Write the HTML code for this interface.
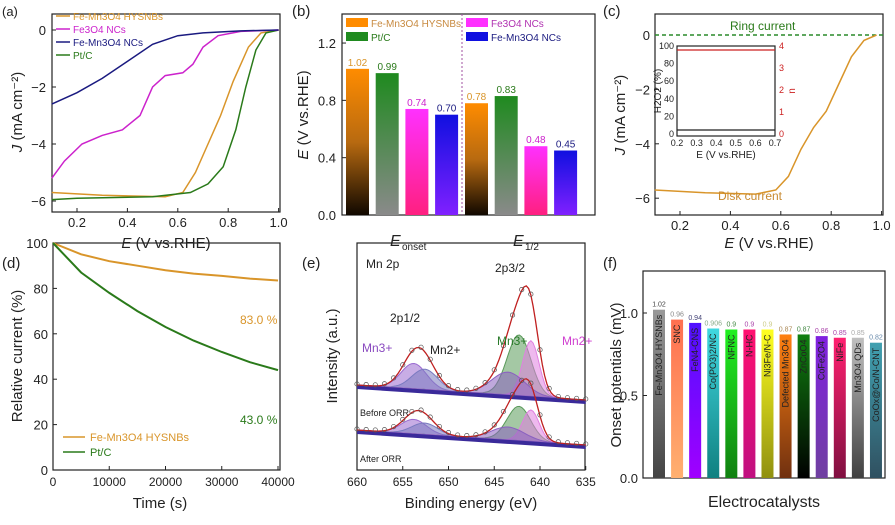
<!DOCTYPE html>
<html><head><meta charset="utf-8"><style>
body{margin:0;background:#fff;width:895px;height:520px;overflow:hidden}
svg{font-family:"Liberation Sans",sans-serif}
</style></head><body>
<svg id="s" width="895" height="520" viewBox="0 0 895 520" xmlns="http://www.w3.org/2000/svg">
<defs>
<linearGradient id="gO" x1="0" y1="0" x2="0" y2="1"><stop offset="0" stop-color="#ff8c00"/><stop offset="0.5" stop-color="#b86a10"/><stop offset="1" stop-color="#100800"/></linearGradient>
<linearGradient id="gG" x1="0" y1="0" x2="0" y2="1"><stop offset="0" stop-color="#1f8a1f"/><stop offset="1" stop-color="#8a8a8a"/></linearGradient>
<linearGradient id="gP" x1="0" y1="0" x2="0" y2="1"><stop offset="0" stop-color="#ff30ff"/><stop offset="1" stop-color="#ff2080"/></linearGradient>
<linearGradient id="gB" x1="0" y1="0" x2="0" y2="1"><stop offset="0" stop-color="#1010e0"/><stop offset="1" stop-color="#8020ff"/></linearGradient>
</defs>
</svg>
<script>
// ---------- data ----------
const aOrange=[[0.1,-5.7],[0.3,-5.8],[0.55,-5.85],[0.62,-5.7],[0.67,-5.0],[0.72,-4.0],[0.77,-3.0],[0.82,-1.8],[0.88,-0.6],[0.93,-0.1],[1.0,0]];
const aGreen=[[0.1,-5.95],[0.2,-5.9],[0.5,-5.85],[0.65,-5.7],[0.72,-5.4],[0.78,-4.8],[0.83,-3.5],[0.87,-2.0],[0.91,-0.7],[0.95,-0.1],[1.0,0]];
const aPink=[[0.1,-5.2],[0.15,-4.6],[0.22,-4.0],[0.3,-3.7],[0.38,-3.5],[0.45,-3.0],[0.5,-2.0],[0.55,-1.6],[0.62,-1.5],[0.66,-1.2],[0.7,-0.6],[0.76,-0.2],[0.85,-0.05],[1.0,0]];
const aNavy=[[0.1,-2.6],[0.2,-2.2],[0.3,-1.7],[0.4,-1.1],[0.5,-0.5],[0.6,-0.2],[0.7,-0.1],[0.85,-0.03],[1.0,0]];
const bOnset=[1.02,0.99,0.74,0.70];
const bHalf=[0.78,0.83,0.48,0.45];
const cDisk=[[0.1,-5.7],[0.3,-5.8],[0.5,-5.85],[0.58,-5.7],[0.63,-5.2],[0.68,-4.2],[0.73,-3.4],[0.78,-2.8],[0.83,-1.8],[0.88,-0.8],[0.93,-0.2],[0.98,0]];
const dTime=[0,5000,10000,15000,20000,25000,30000,35000,40000];
const dOrange=[100,95,92,90,88,86.5,85.5,84.3,83.5];
const dGreen=[100,87,78,70,63,57,52,47.5,44];
const fNames=["Fe-Mn3O4 HYSNBs","SNC","FeN4-CNS","Co(PO3)2/NC","NFNC","N-HC","Ni3Fe/N-C","Defected Mn3O4","ZnCoO4","CoFe2O4","NiFe","Mn3O4 QDs","CoOx@Co/N-CNT"];
const fVals=[1.02,0.96,0.94,0.906,0.90,0.90,0.90,0.87,0.87,0.86,0.85,0.85,0.82];
const fTop=["#999","#ff7050","#5010ff","#40d8e0","#20f020","#ff1070","#ffff20","#ff8010","#108010","#8020e0","#ff2070","#c0c0c0","#40a0b0"];
const fBot=["#444","#ffb070","#a000ff","#108080","#108010","#c01080","#909010","#703010","#000","#7040a0","#801040","#404040","#305060"];
const fLab=["#444","#888","#447","#8a8","#484","#a4a","#cc8","#a85","#484","#a4a","#a4a","#aaa","#68a"];
// ---------- helpers ----------
const S=document.getElementById('s');const NS="http://www.w3.org/2000/svg";
function el(t,a,txt){const e=document.createElementNS(NS,t);for(const k in a)e.setAttribute(k,a[k]);if(txt!==undefined)e.textContent=txt;S.appendChild(e);return e;}
function line(pts,sx,sy){return pts.map((p,i)=>(i?'L':'M')+sx(p[0]).toFixed(1)+','+sy(p[1]).toFixed(1)).join('');}
function box(x0,y0,x1,y1,n){const r=el('rect',{x:x0,y:y0,width:x1-x0,height:y1-y0,fill:'none',stroke:'#222','stroke-width':1.2});

}
function txt(x,y,t,n,o){const e=el('text',Object.assign({x:x,y:y,'font-size':13,fill:'#222'},o||{}),t);

return e;}
function itxt(x,y,it,rest,n,o){const e=txt(x,y,'',n,o);e.innerHTML='<tspan font-style="italic">'+it+'</tspan>'+rest;return e;}
// ========== (a) ==========
{const sx=v=>77+(v-0.2)*252, sy=v=>30-v*28.5;
box(52,14,280,212,'panel-a-frame');txt(2,16,'(a)','panel-a-label');
[0,-2,-4,-6].forEach(v=>{el('line',{x1:52,x2:56,y1:sy(v),y2:sy(v),stroke:'#222'});txt(46,sy(v)+5,v===0?'0':'−'+(-v),'a-y-tick',{'text-anchor':'end'});});
[0.2,0.4,0.6,0.8,1.0].forEach(v=>{el('line',{x1:sx(v),x2:sx(v),y1:212,y2:208,stroke:'#222'});txt(sx(v),227,v.toFixed(1),'a-x-tick',{'text-anchor':'middle'});});
itxt(166,248,'E',' (V vs.RHE)','a-x-title',{'text-anchor':'middle','font-size':15});
itxt(22,112,'J',' (mA cm⁻²)','a-y-title',{'text-anchor':'middle','font-size':15,transform:'rotate(-90 22 112)'});
[[aOrange,'#d9952a','a-line-fe-mn3o4-hysnbs'],[aGreen,'#2a7a1a','a-line-pt-c'],[aPink,'#cc22cc','a-line-fe3o4'],[aNavy,'#1a1a80','a-line-fe-mn3o4-ncs']].forEach(s=>{const p=el('path',{d:line(s[0],sx,sy),fill:'none',stroke:s[1],'stroke-width':1.5});

});
[['Fe-Mn3O4 HYSNBs','#d9952a',20],['Fe3O4 NCs','#cc22cc',33],['Fe-Mn3O4 NCs','#1a1a80',46],['Pt/C','#2a7a1a',59]].forEach(l=>{el('line',{x1:56,x2:70,y1:l[2]-4,y2:l[2]-4,stroke:l[1],'stroke-width':1.5});txt(73,l[2],l[0],'a-legend-entry',{'font-size':10,fill:l[1]});});}
// ========== (b) ==========
{const sy=v=>215-v*143.3;
box(342,14,595,215,'panel-b-frame');txt(292,16,'(b)','panel-b-label',{'font-size':15});
[0,0.4,0.8,1.2].forEach(v=>{el('line',{x1:342,x2:346,y1:sy(v),y2:sy(v),stroke:'#222'});txt(336,sy(v)+5,v.toFixed(1),'b-y-tick',{'text-anchor':'end'});});
itxt(308,115,'E',' (V vs.RHE)','b-y-title',{'text-anchor':'middle','font-size':15,transform:'rotate(-90 308 115)'});
el('line',{x1:462,x2:462,y1:14,y2:215,stroke:'#a050a0','stroke-dasharray':'2,2'});
const g=['url(#gO)','url(#gG)','url(#gP)','url(#gB)'],lc=['#d9952a','#2a7a1a','#cc22cc','#1a1a80'];
[[bOnset,346],[bHalf,465]].forEach(grp=>{grp[0].forEach((v,i)=>{const x=grp[1]+i*29.7;const r=el('rect',{x:x,y:sy(v),width:23,height:215-sy(v),fill:g[i]});


txt(x+11.5,sy(v)-3,v.toFixed(2),'b-bar-value',{'text-anchor':'middle','font-size':10,fill:lc[i]});});});
txt(390,246,'E','b-x-label-onset',{'font-size':16,'font-style':'italic'});txt(402,250,'onset','b-x-sub',{'font-size':10});
txt(513,246,'E','b-x-label-half',{'font-size':16,'font-style':'italic'});txt(525,250,'1/2','b-x-sub',{'font-size':10});
[['Fe-Mn3O4 HYSNBs','#ff8c00',346,27,'#c88a40'],['Pt/C','#1f8a1f',346,41,'#2a7a1a'],['Fe3O4 NCs','#ff30ff',466,27,'#b030b0'],['Fe-Mn3O4 NCs','#1010e0',466,41,'#1a1a80']].forEach(l=>{el('rect',{x:l[2],y:l[3]-9,width:22,height:9,fill:l[1]});txt(l[2]+25,l[3],l[0],'b-legend-entry',{'font-size':10,fill:l[4]});});}
// ========== (c) ==========
{const sx=v=>680+(v-0.2)*252, sy=v=>35-v*27.2;
box(655,14,883,215,'panel-c-frame');txt(603,16,'(c)','panel-c-label',{'font-size':15});
[0,-2,-4,-6].forEach(v=>{el('line',{x1:655,x2:659,y1:sy(v),y2:sy(v),stroke:'#222'});txt(650,sy(v)+5,v===0?'0':'−'+(-v),'c-y-tick',{'text-anchor':'end'});});
[0.2,0.4,0.6,0.8,1.0].forEach(v=>{el('line',{x1:sx(v),x2:sx(v),y1:215,y2:211,stroke:'#222'});txt(sx(v),230,v.toFixed(1),'c-x-tick',{'text-anchor':'middle'});});
itxt(769,248,'E',' (V vs.RHE)','c-x-title',{'text-anchor':'middle','font-size':15});
itxt(625,115,'J',' (mA cm⁻²)','c-y-title',{'text-anchor':'middle','font-size':15,transform:'rotate(-90 625 115)'});
el('line',{x1:655,x2:883,y1:sy(0),y2:sy(0),stroke:'#2a8a2a','stroke-dasharray':'4,3','stroke-width':1.5});
const p=el('path',{d:line(cDisk,sx,sy),fill:'none',stroke:'#d9952a','stroke-width':1.5});


txt(730,30,'Ring current','c-ring-label',{'font-size':12,fill:'#2a7a1a'});
txt(718,200,'Disk current','c-disk-label',{'font-size':12,fill:'#c88a30'});
box(677,46,775,136,'c-inset-frame');
el('line',{x1:677,x2:775,y1:50,y2:50,stroke:'#cc2020','stroke-width':1.3});
el('line',{x1:677,x2:775,y1:130,y2:130,stroke:'#222','stroke-width':1.3});
[100,80,60,40,20,0].forEach((v,i)=>txt(674,49+i*17.6,v,'c-inset-y-tick',{'text-anchor':'end','font-size':9}));
[4,3,2,1,0].forEach((v,i)=>txt(779,49+i*22,v,'c-inset-y2-tick',{'font-size':9,fill:'#cc2020'}));
[0.2,0.3,0.4,0.5,0.6,0.7].forEach((v,i)=>txt(677+i*19.6,146,v,'c-inset-x-tick',{'text-anchor':'middle','font-size':9}));
txt(726,158,'E (V vs.RHE)','c-inset-x-title',{'text-anchor':'middle','font-size':10});
txt(661,91,'H2O2 (%)','c-inset-y-title',{'text-anchor':'middle','font-size':10,transform:'rotate(-90 661 91)'});
txt(795,91,'n','c-inset-y2-title',{'text-anchor':'middle','font-size':10,fill:'#cc2020',transform:'rotate(-90 795 91)'});}
// ========== (d) ==========
{const sx=v=>53+v*0.005625, sy=v=>470-v*2.27;
box(53,243,280,470,'panel-d-frame');txt(2,268,'(d)','panel-d-label',{'font-size':15});
[0,20,40,60,80,100].forEach(v=>{el('line',{x1:53,x2:57,y1:sy(v),y2:sy(v),stroke:'#222'});txt(48,sy(v)+5,v,'d-y-tick',{'text-anchor':'end'});});
[0,10000,20000,30000,40000].forEach(v=>{el('line',{x1:sx(v),x2:sx(v),y1:470,y2:466,stroke:'#222'});txt(sx(v),486,v,'d-x-tick',{'text-anchor':'middle','font-size':12});});
txt(160,508,'Time (s)','d-x-title',{'text-anchor':'middle','font-size':15});
txt(22,356,'Relative current (%)','d-y-title',{'text-anchor':'middle','font-size':15,transform:'rotate(-90 22 356)'});
[[dOrange,'#d9952a','d-line-fe-mn3o4'],[dGreen,'#2a7a1a','d-line-pt-c']].forEach(s=>{const p=el('path',{d:line(dTime.map((t,i)=>[t,s[0][i]]),sx,sy),fill:'none',stroke:s[1],'stroke-width':2});

});
txt(240,324,'83.0 %','d-value-orange',{fill:'#d9952a','font-size':12});
txt(240,424,'43.0 %','d-value-green',{fill:'#2a7a1a','font-size':12});
el('line',{x1:63,x2:85,y1:437,y2:437,stroke:'#d9952a','stroke-width':1.5});txt(90,441,'Fe-Mn3O4 HYSNBs','d-legend-entry',{'font-size':11,fill:'#d9952a'});
el('line',{x1:63,x2:85,y1:452,y2:452,stroke:'#2a7a1a','stroke-width':1.5});txt(90,456,'Pt/C','d-legend-entry',{'font-size':11,fill:'#2a7a1a'});}
// ========== (e) ==========
{const sx=v=>357+(660-v)*9.15;
box(357,243,585,470,'panel-e-frame');txt(302,268,'(e)','panel-e-label',{'font-size':15});
[660,655,650,645,640,635].forEach(v=>{el('line',{x1:sx(v),x2:sx(v),y1:470,y2:466,stroke:'#222'});txt(sx(v),486,v,'e-x-tick',{'text-anchor':'middle','font-size':12});});
txt(471,508,'Binding energy (eV)','e-x-title',{'text-anchor':'middle','font-size':15});
txt(337,356,'Intensity (a.u.)','e-y-title',{'text-anchor':'middle','font-size':15,transform:'rotate(-90 337 356)'});
txt(366,268,'Mn 2p','e-title',{'font-size':12});
const peaks=[[653.8,1,1.4,'#9a6ad0'],[652.6,0.8,1.4,'#7a7ac0'],[642.3,2.4,1.3,'#5a9a5a'],[641.0,2.2,0.9,'#e080e0'],[643.5,0.9,1.8,'#8a60c0']];
[[400,1.15,'before'],[445,0.65,'after']].forEach(sp=>{const base=sp[0],k=sp[1];const bgy=v=>base-(v-635)*0.6;
let env=[];for(let e=660;e>=635;e-=0.25){let y=0;peaks.forEach(p=>y+=p[1]*Math.exp(-((e-p[0])**2)/(2*p[2]*p[2])));env.push([e,y]);}
peaks.forEach(p=>{let d='';for(let e=660;e>=635;e-=0.25){const y=bgy(e)-22*k*p[1]*Math.exp(-((e-p[0])**2)/(2*p[2]*p[2]));d+=(d?'L':'M')+sx(e).toFixed(1)+','+y.toFixed(1);}
d+='L'+sx(635)+','+bgy(635)+'L'+sx(660)+','+bgy(660)+'Z';const pp=el('path',{d:d,fill:p[3],'fill-opacity':0.55,stroke:p[3]});

});
el('path',{d:'M'+sx(660)+','+bgy(660)+'L'+sx(635)+','+bgy(635)+'L'+sx(635)+','+(bgy(635)+4)+'L'+sx(660)+','+(bgy(660)+4)+'Z',fill:'#3a2a9a'});
const fit=el('path',{d:env.map((p,i)=>(i?'L':'M')+sx(p[0]).toFixed(1)+','+(bgy(p[0])-22*k*p[1]).toFixed(1)).join(''),fill:'none',stroke:'#c02020','stroke-width':1.3});


env.forEach((p,i)=>{if(i%4===0)el('circle',{cx:sx(p[0]),cy:bgy(p[0])-22*k*p[1]-1,r:2.2,fill:'none',stroke:'#555','stroke-width':0.7});});});
txt(360,416,'Before ORR','e-label-before',{'font-size':9});
txt(360,462,'After ORR','e-label-after',{'font-size':9});
txt(390,322,'2p1/2','e-label-2p12',{'font-size':12});txt(495,272,'2p3/2','e-label-2p32',{'font-size':12});
txt(362,352,'Mn3+','e-mn3-left',{'font-size':12,fill:'#8a4ac0'});txt(430,354,'Mn2+','e-mn2-left',{'font-size':12});
txt(497,345,'Mn3+','e-mn3-right',{'font-size':12,fill:'#2a7a2a'});txt(562,345,'Mn2+','e-mn2-right',{'font-size':12,fill:'#d040d0'});}
// ========== (f) ==========
{const sy=v=>478-v*165;
box(643,271,885,478,'panel-f-frame');txt(603,268,'(f)','panel-f-label',{'font-size':15});
[0,0.5,1.0].forEach(v=>{el('line',{x1:643,x2:647,y1:sy(v),y2:sy(v),stroke:'#222'});txt(638,sy(v)+5,v.toFixed(1),'f-y-tick',{'text-anchor':'end'});});
txt(764,507,'Electrocatalysts','f-x-title',{'text-anchor':'middle','font-size':16});
txt(621,375,'Onset potentials (mV)','f-y-title',{'text-anchor':'middle','font-size':15,transform:'rotate(-90 621 375)'});
const defs=S.querySelector('defs');
fVals.forEach((v,i)=>{const x=653+i*18.08;const gid='fg'+i;const lg=document.createElementNS(NS,'linearGradient');lg.setAttribute('id',gid);lg.setAttribute('x1',0);lg.setAttribute('y1',0);lg.setAttribute('x2',0);lg.setAttribute('y2',1);
lg.innerHTML='<stop offset="0" stop-color="'+fTop[i]+'"/><stop offset="1" stop-color="'+fBot[i]+'"/>';defs.appendChild(lg);
const r=el('rect',{x:x,y:sy(v),width:12,height:478-sy(v),fill:'url(#'+gid+')'});


txt(x+6,sy(v)-3,String(v).slice(0,5),'f-bar-value',{'text-anchor':'middle','font-size':7,fill:fLab[i]});
txt(x+9,sy(v)+5,fNames[i],'f-bar-name',{'font-size':9,fill:'#222',transform:'rotate(-90 '+(x+9)+' '+(sy(v)+5)+')','text-anchor':'end'});});}
</script>
</body></html>
